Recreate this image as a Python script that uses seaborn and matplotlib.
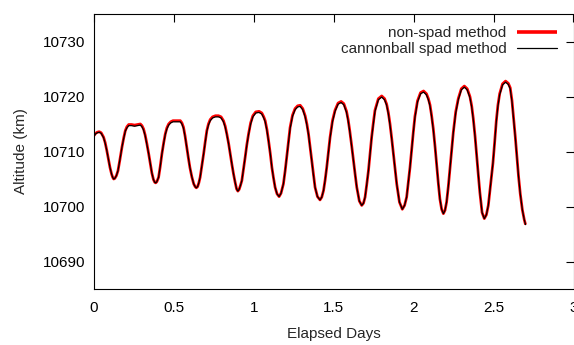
import matplotlib
matplotlib.use("Agg")
import matplotlib.pyplot as plt
import seaborn as sns
import pandas as pd

# Elapsed days
days = [0.000, 0.010, 0.020, 0.033, 0.045, 0.060, 0.070, 0.080, 0.090, 0.100,
        0.110, 0.117, 0.123, 0.130, 0.140, 0.150, 0.162, 0.175, 0.186, 0.196,
        0.206, 0.217, 0.235, 0.254, 0.272, 0.290, 0.300, 0.310, 0.320, 0.331,
        0.342, 0.352, 0.362, 0.372, 0.380, 0.386, 0.393, 0.404, 0.414, 0.425,
        0.436, 0.446, 0.456, 0.467, 0.480, 0.494, 0.517, 0.540, 0.550, 0.560,
        0.570, 0.580, 0.590, 0.600, 0.612, 0.624, 0.633, 0.640, 0.648, 0.656,
        0.664, 0.675, 0.686, 0.696, 0.706, 0.716, 0.727, 0.742, 0.760, 0.779,
        0.795, 0.810, 0.821, 0.831, 0.842, 0.852, 0.863, 0.873, 0.883, 0.892,
        0.900, 0.908, 0.916, 0.925, 0.935, 0.946, 0.956, 0.967, 0.980, 0.994,
        1.012, 1.033, 1.050, 1.062, 1.071, 1.082, 1.092, 1.103, 1.113, 1.123,
        1.133, 1.145, 1.158, 1.170, 1.185, 1.196, 1.206, 1.217, 1.227, 1.242,
        1.258, 1.274, 1.290, 1.306, 1.321, 1.332, 1.342, 1.352, 1.362, 1.372,
        1.383, 1.398, 1.414, 1.425, 1.436, 1.446, 1.456, 1.467, 1.477, 1.492,
        1.508, 1.527, 1.546, 1.563, 1.580, 1.590, 1.600, 1.612, 1.623, 1.634,
        1.644, 1.660, 1.675, 1.686, 1.696, 1.706, 1.717, 1.727, 1.737, 1.748,
        1.758, 1.779, 1.800, 1.818, 1.831, 1.842, 1.852, 1.863, 1.873, 1.884,
        1.894, 1.911, 1.929, 1.943, 1.956, 1.966, 1.977, 1.988, 1.998, 2.008,
        2.024, 2.043, 2.062, 2.080, 2.092, 2.102, 2.112, 2.123, 2.134, 2.144,
        2.154, 2.164, 2.175, 2.186, 2.196, 2.206, 2.217, 2.227, 2.238, 2.248,
        2.263, 2.279, 2.298, 2.317, 2.335, 2.352, 2.363, 2.373, 2.384, 2.394,
        2.404, 2.414, 2.428, 2.442, 2.455, 2.467, 2.481, 2.496, 2.507, 2.517,
        2.527, 2.538, 2.556, 2.575, 2.592, 2.604, 2.615, 2.625, 2.636, 2.646,
        2.656, 2.667, 2.680, 2.692, 2.700]

# non-spad method altitude (km)
non_spad = [10712.9, 10713.3, 10713.5, 10713.6, 10713.4, 10712.6, 10711.6, 10710.2, 10708.6, 10707.1,
            10705.9, 10705.3, 10705.0, 10705.1, 10705.6, 10706.5, 10708.5, 10710.8, 10712.5, 10713.8,
            10714.5, 10714.9, 10714.9, 10714.8, 10714.9, 10715.0, 10714.7, 10714.1, 10713.0, 10711.4,
            10709.6, 10707.8, 10706.1, 10704.9, 10704.4, 10704.3, 10704.5, 10705.3, 10707.2, 10709.6,
            10711.6, 10713.2, 10714.3, 10715.0, 10715.4, 10715.6, 10715.6, 10715.6, 10715.2, 10714.4,
            10712.8, 10710.8, 10708.9, 10707.1, 10705.4, 10704.1, 10703.6, 10703.4, 10703.6, 10704.3,
            10705.3, 10707.4, 10709.6, 10711.8, 10713.8, 10715.0, 10715.8, 10716.3, 10716.5, 10716.5,
            10716.3, 10715.6, 10714.6, 10713.2, 10711.5, 10709.6, 10707.6, 10705.9, 10704.4, 10703.2,
            10702.8, 10703.1, 10703.8, 10704.7, 10706.7, 10709.0, 10711.2, 10713.2, 10715.2, 10716.5,
            10717.2, 10717.3, 10717.0, 10716.3, 10715.6, 10714.0, 10712.0, 10709.6, 10707.1, 10705.2,
            10703.5, 10702.3, 10701.8, 10702.4, 10704.1, 10706.5, 10709.0, 10711.8, 10714.4, 10716.6,
            10717.8, 10718.3, 10718.4, 10717.8, 10716.5, 10715.0, 10713.2, 10710.8, 10708.4, 10705.9,
            10703.5, 10701.8, 10701.2, 10701.7, 10702.9, 10704.8, 10707.1, 10709.9, 10712.6, 10715.6,
            10717.5, 10718.8, 10719.1, 10718.7, 10717.3, 10715.8, 10713.8, 10711.1, 10708.4, 10705.8,
            10703.5, 10701.0, 10700.2, 10700.6, 10701.7, 10703.9, 10706.5, 10709.6, 10712.6, 10715.3,
            10717.5, 10719.6, 10720.1, 10719.6, 10718.6, 10717.0, 10715.0, 10712.3, 10709.6, 10706.8,
            10704.1, 10700.8, 10699.5, 10700.2, 10701.7, 10704.2, 10707.1, 10710.5, 10713.6, 10716.4,
            10719.2, 10720.7, 10721.0, 10720.5, 10719.6, 10718.5, 10716.6, 10714.1, 10710.8, 10707.5,
            10704.3, 10701.4, 10699.5, 10698.7, 10699.3, 10700.8, 10703.7, 10706.9, 10710.3, 10713.5,
            10717.2, 10719.6, 10721.4, 10721.9, 10721.4, 10720.0, 10718.3, 10716.0, 10712.8, 10709.3,
            10705.9, 10702.6, 10698.9, 10697.8, 10698.5, 10700.2, 10703.9, 10707.9, 10711.8, 10715.6,
            10718.4, 10720.5, 10722.3, 10722.8, 10722.4, 10721.6, 10719.3, 10716.2, 10712.6, 10709.0,
            10705.5, 10702.3, 10699.4, 10697.6, 10696.7]

# cannonball spad method altitude (km)
cannonball = [10712.8, 10713.2, 10713.4, 10713.5, 10713.3, 10712.5, 10711.5, 10710.2, 10708.6, 10707.1,
              10705.9, 10705.3, 10705.0, 10705.1, 10705.6, 10706.5, 10708.5, 10710.8, 10712.4, 10713.7,
              10714.3, 10714.7, 10714.7, 10714.6, 10714.7, 10714.8, 10714.5, 10713.9, 10712.9, 10711.3,
              10709.6, 10707.8, 10706.1, 10704.9, 10704.4, 10704.3, 10704.5, 10705.3, 10707.2, 10709.6,
              10711.5, 10713.1, 10714.1, 10714.8, 10715.2, 10715.4, 10715.4, 10715.4, 10715.0, 10714.2,
              10712.7, 10710.8, 10708.9, 10707.1, 10705.4, 10704.1, 10703.6, 10703.4, 10703.6, 10704.3,
              10705.3, 10707.4, 10709.6, 10711.7, 10713.7, 10714.8, 10715.6, 10716.1, 10716.3, 10716.3,
              10716.1, 10715.4, 10714.4, 10713.1, 10711.4, 10709.6, 10707.6, 10705.9, 10704.4, 10703.2,
              10702.8, 10703.1, 10703.8, 10704.7, 10706.7, 10709.0, 10711.1, 10713.1, 10715.0, 10716.3,
              10717.0, 10717.1, 10716.8, 10716.1, 10715.4, 10713.8, 10711.9, 10709.6, 10707.1, 10705.2,
              10703.5, 10702.3, 10701.8, 10702.4, 10704.1, 10706.5, 10709.0, 10711.7, 10714.2, 10716.4,
              10717.6, 10718.1, 10718.2, 10717.6, 10716.3, 10714.8, 10713.1, 10710.8, 10708.4, 10705.9,
              10703.5, 10701.8, 10701.2, 10701.7, 10702.9, 10704.8, 10707.1, 10709.9, 10712.5, 10715.4,
              10717.3, 10718.6, 10718.9, 10718.5, 10717.1, 10715.6, 10713.7, 10711.0, 10708.4, 10705.8,
              10703.5, 10701.0, 10700.2, 10700.6, 10701.7, 10703.9, 10706.5, 10709.6, 10712.5, 10715.1,
              10717.3, 10719.4, 10719.9, 10719.4, 10718.4, 10716.8, 10714.8, 10712.2, 10709.6, 10706.8,
              10704.1, 10700.8, 10699.5, 10700.2, 10701.7, 10704.2, 10707.1, 10710.5, 10713.5, 10716.2,
              10719.0, 10720.5, 10720.8, 10720.3, 10719.4, 10718.3, 10716.4, 10713.9, 10710.8, 10707.5,
              10704.3, 10701.4, 10699.5, 10698.7, 10699.3, 10700.8, 10703.7, 10706.9, 10710.3, 10713.4,
              10717.0, 10719.4, 10721.2, 10721.7, 10721.2, 10719.8, 10718.1, 10715.8, 10712.7, 10709.3,
              10705.9, 10702.6, 10698.9, 10697.8, 10698.5, 10700.2, 10703.9, 10707.9, 10711.7, 10715.4,
              10718.2, 10720.3, 10722.1, 10722.6, 10722.2, 10721.4, 10719.1, 10716.0, 10712.5, 10709.0,
              10705.5, 10702.3, 10699.4, 10697.6, 10696.7]

x_ticks = [0, 0.5, 1, 1.5, 2, 2.5, 3]
x_tick_labels = ["0", "0.5", "1", "1.5", "2", "2.5", "3"]
y_ticks = [10690, 10700, 10710, 10720, 10730]
y_tick_labels = ["10690", "10700", "10710", "10720", "10730"]

sns.set_style("white")
plt.rcParams["font.family"] = ["Liberation Sans", "DejaVu Sans"]

df = pd.DataFrame({"days": days, "non_spad": non_spad, "cannonball": cannonball})

fig = plt.figure(figsize=(5.74, 3.45), dpi=100)
ax = fig.add_axes([94 / 574, 56 / 345, 479.5 / 574, 275 / 345])

sns.lineplot(data=df, x="days", y="non_spad", ax=ax, color="#ff0000", lw=2.0,
             label="non-spad method", estimator=None, sort=False,
             solid_joinstyle="round", solid_capstyle="butt")
sns.lineplot(data=df, x="days", y="cannonball", ax=ax, color="#000000", lw=0.9,
             label="cannonball spad method", estimator=None, sort=False,
             solid_joinstyle="round")

ax.set_xlim(0, 3)
ax.set_ylim(10685, 10735)
ax.set_xticks(x_ticks)
ax.set_xticklabels(x_tick_labels)
ax.set_yticks(y_ticks)
ax.set_yticklabels(y_tick_labels)

for s in ax.spines.values():
    s.set_color("black")
    s.set_linewidth(0.8)

ax.tick_params(axis="both", which="major", direction="in", length=5.5, width=0.8,
               top=True, right=True, labelsize=11, colors="black")
ax.tick_params(axis="x", pad=9)
ax.tick_params(axis="y", pad=6)

ax.set_xlabel("Elapsed Days", fontsize=11, labelpad=8)
ax.set_ylabel("Altitude (km)", fontsize=11, labelpad=11)

leg = ax.legend(loc="upper right", bbox_to_anchor=(557 / 574, (345 - 26) / 345),
                bbox_transform=fig.transFigure, frameon=False, markerfirst=False,
                fontsize=11, handlelength=2.6, handletextpad=0.7,
                labelspacing=0.15, borderpad=0, borderaxespad=0)
leg.get_lines()[0].set_linewidth(2.6)

fig.savefig("out.png", dpi=100)
